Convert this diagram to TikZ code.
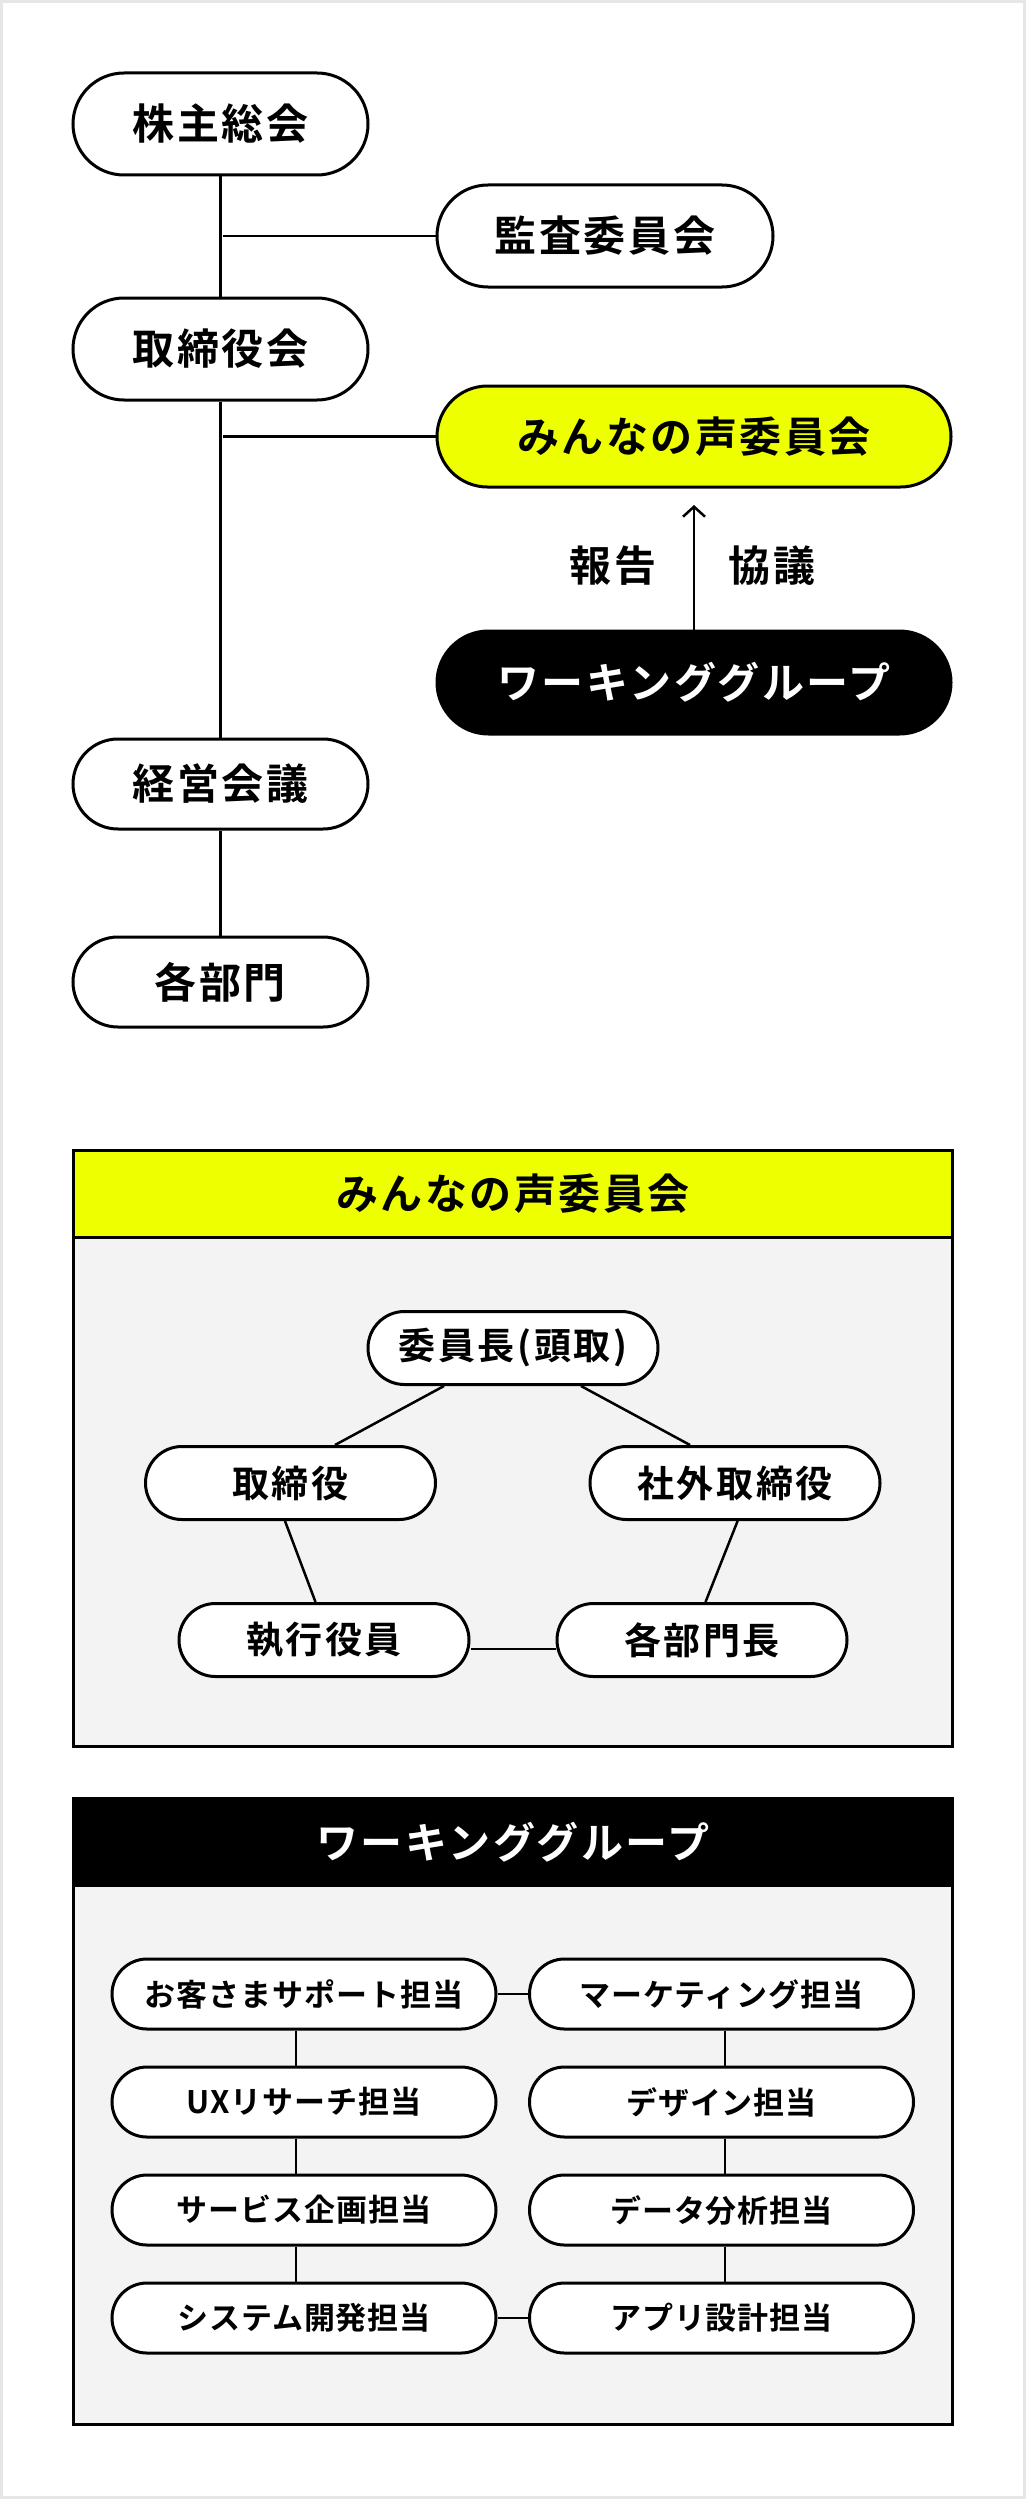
\documentclass[tikz,border=0pt]{standalone}
\usepackage{fontspec}
\newfontfamily\jpbig{Noto Sans CJK JP Bold}[LetterSpace=6]
\newfontfamily\jpmid{Noto Sans CJK JP Bold}[LetterSpace=7]
\newfontfamily\jpsmall{Noto Sans CJK JP Bold}[LetterSpace=3]
\usetikzlibrary{calc,arrows.meta}
\definecolor{voiceyellow}{HTML}{EEFF00}
\definecolor{panelgray}{HTML}{F3F3F3}
\definecolor{framegray}{HTML}{E6E6E6}
\begin{document}
\begin{tikzpicture}[x=1pt,y=-1pt,
  pill/.style={draw=black, line width=3pt, fill=white, inner sep=0pt, text=black},
  txtbig/.style={font=\jpbig\fontsize{42}{50}\selectfont},
  txtmid/.style={font=\jpmid\fontsize{37}{44}\selectfont},
  txtsmall/.style={font=\jpsmall\fontsize{31}{38}\selectfont},
  conn/.style={draw=black, line width=2.5pt},
  toppill/.style={pill, txtbig, minimum width=295pt, minimum height=102pt, rounded corners=51pt},
  lowpill/.style={pill, txtbig, minimum width=295pt, minimum height=90pt, rounded corners=45pt},
  midpill/.style={pill, txtmid, minimum width=290pt, minimum height=73pt, rounded corners=36.5pt},
  wgpill/.style={pill, txtsmall, minimum width=384pt, minimum height=70pt, rounded corners=35pt},
  panel/.style={draw=black, line width=3pt, fill=panelgray}
]
\useasboundingbox (0,0) rectangle (1026,2499);
\fill[framegray] (0,0) rectangle (1026,2499);
\fill[white] (3,3) rectangle (1023,2496);

% ---------- top organisation chart ----------
\node[toppill] (gm) at (220.5,124) {株主総会};
\node[pill, txtbig, minimum width=336pt, minimum height=102pt, rounded corners=51pt] (audit) at (605,236) {監査委員会};
\node[toppill] (board) at (220.5,349) {取締役会};
\node[pill, txtbig, fill=voiceyellow, minimum width=514pt, minimum height=101pt, rounded corners=50.5pt] (voice) at (694,436.5) {みんなの声委員会};
\node[pill, txtbig, fill=black, text=white, minimum width=514pt, minimum height=103pt, rounded corners=51.5pt] (wg) at (694,682.5) {ワーキンググループ};
\node[lowpill] (mgmt) at (220.5,784) {経営会議};
\node[lowpill] (dept) at (220.5,982) {各部門};

\draw[conn] (gm.south) -- (board.north);
\draw[conn] (board.south) -- (mgmt.north);
\draw[conn] (mgmt.south) -- (dept.north);
\coordinate (j1) at (223,236);
\coordinate (j2) at (223,436.5);
\draw[conn] (j1) -- (audit.west);
\draw[conn] (j2) -- (voice.west);
\coordinate (tip) at (694,505);
\draw[conn, -{Straight Barb[length=10pt,width=22pt]}] (wg.north) -- (tip);
\node[txtbig] (rep) at (613,566) {報告};
\node[txtbig] (kyo) at (772,566) {協議};

% ---------- panel 1 ----------
\draw[panel] (73.5,1150.5) rectangle (952.5,1746);
\draw[draw=black, line width=3pt, fill=voiceyellow] (73.5,1150.5) rectangle (952.5,1237.5);
\node[txtbig] (t1) at (513,1194) {みんなの声委員会};

\node[midpill] (chair) at (513,1348) {委員長(頭取)};
\node[midpill] (dir) at (290.5,1483) {取締役};
\node[midpill] (outdir) at (735,1483) {社外取締役};
\node[midpill] (exec) at (324,1640) {執行役員};
\node[midpill] (head) at (702,1640) {各部門長};

\draw[conn] ($(chair.south)+(-69,0)$) -- ($(dir.north)+(44.5,0)$);
\draw[conn] ($(chair.south)+(68,0)$) -- ($(outdir.north)+(-45,0)$);
\draw[conn] ($(dir.south)+(-5.5,0)$) -- ($(exec.north)+(-8.5,0)$);
\draw[conn] ($(outdir.south)+(2.6,0)$) -- ($(head.north)+(3.5,0)$);
\draw[conn] ($(exec.east)+(0,9)$) -- ($(head.west)+(0,9)$);

% ---------- panel 2 ----------
\draw[panel] (73.5,1798.5) rectangle (952.5,2424.5);
\draw[draw=black, line width=3pt, fill=black] (73.5,1798.5) rectangle (952.5,1885);
\node[txtbig, text=white] (t2) at (513,1842) {ワーキンググループ};

\node[wgpill] (w1) at (304,1994) {お客さまサポート担当};
\node[wgpill] (w2) at (304,2102) {UXリサーチ担当};
\node[wgpill] (w3) at (304,2210) {サービス企画担当};
\node[wgpill] (w4) at (304,2318) {システム開発担当};
\node[wgpill] (r1) at (721.5,1994) {マーケティング担当};
\node[wgpill] (r2) at (721.5,2102) {デザイン担当};
\node[wgpill] (r3) at (721.5,2210) {データ分析担当};
\node[wgpill] (r4) at (721.5,2318) {アプリ設計担当};

\draw[conn] ($(w1.south)+(-8,0)$) -- ($(w2.north)+(-8,0)$);
\draw[conn] ($(w2.south)+(-8,0)$) -- ($(w3.north)+(-8,0)$);
\draw[conn] ($(w3.south)+(-8,0)$) -- ($(w4.north)+(-8,0)$);
\draw[conn] ($(r1.south)+(3.5,0)$) -- ($(r2.north)+(3.5,0)$);
\draw[conn] ($(r2.south)+(3.5,0)$) -- ($(r3.north)+(3.5,0)$);
\draw[conn] ($(r3.south)+(3.5,0)$) -- ($(r4.north)+(3.5,0)$);
\draw[conn] (w1.east) -- (r1.west);
\draw[conn] (w4.east) -- (r4.west);
\end{tikzpicture}
\end{document}
